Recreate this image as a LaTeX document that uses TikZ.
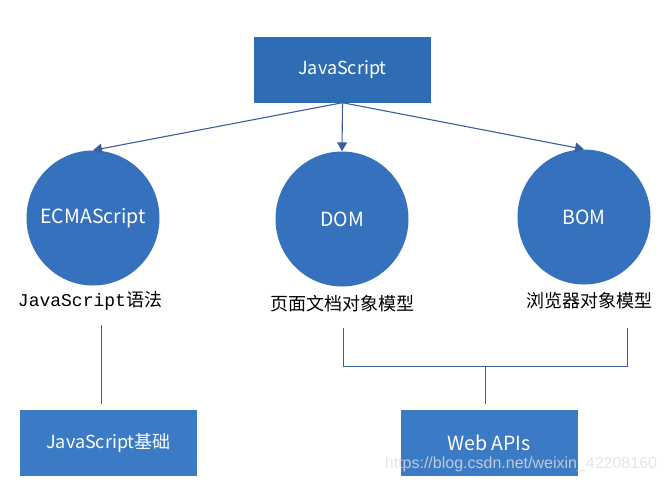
\documentclass[tikz,border=0pt]{standalone}
\usepackage{fontspec}
\usetikzlibrary{shapes.geometric, arrows.meta, positioning}
\newfontfamily\cjk{Noto Sans CJK SC}
\newfontfamily\codefont{Liberation Mono}
\newfontfamily\markfont{Liberation Sans}
\definecolor{topblue}{HTML}{2E6DB4}
\definecolor{ballblue}{HTML}{3571BD}
\definecolor{baseblue}{HTML}{3B7AC4}
\definecolor{linkblue}{HTML}{3A5E9E}

\begin{document}
\begin{tikzpicture}[x=1pt, y=-1pt,
  box/.style={rectangle, minimum width=177pt, minimum height=66pt, inner sep=0pt, text=white, font=\cjk\fontsize{18}{20}\selectfont},
  ball/.style={ellipse, minimum width=133pt, minimum height=135pt, inner sep=-12pt, fill=ballblue, text=white, font=\cjk\fontsize{19.5}{22}\selectfont},
  caption/.style={inner sep=1pt, font=\cjk\fontsize{18}{20}\selectfont},
  branch/.style={draw=linkblue, line width=1.1pt, -{Triangle[length=9pt,width=10pt]}},
  link/.style={draw=linkblue, line width=1pt}]
\useasboundingbox (0,0) rectangle (668,483);

% Top box
\node[box, fill=topblue] (js) at (342.5,69.5) {JavaScript};

% The three parts
\node[ball] (ecma) at (93,218) {ECMAScript};
\node[ball] (dom) at (342,219) {DOM};
\node[ball] (bom) at (584,217) {BOM};

% Captions
\node[caption] (ecmalbl) at (90,301) {{\codefont JavaScript}语法};
\node[caption] (domlbl) at (342,304) {页面文档对象模型};
\node[caption] (bomlbl) at (589,301) {浏览器对象模型};

% Bottom boxes
\node[box, fill=baseblue] (jsbase) at (108.5,443) {JavaScript基础};
\node[box, fill=baseblue, font=\cjk\fontsize{19.5}{22}\selectfont] (webapi) at (489,443) {Web APIs};

% Arrows
\draw[branch] (js.south) -- (ecma.north);
\draw[branch] (js.south) -- (dom.north);
\draw[branch] (js.south) -- (bom.north);

% Links to the bottom boxes
\coordinate (ecmaend) at (101,325);
\coordinate (domend) at (343,328);
\coordinate (bomend) at (627,328);
\coordinate (apijoin) at (485,366);
\draw[link, shorten >=6pt] (ecmaend) -- (ecmaend |- jsbase.north);
\draw[link] (domend) -- ++(0,38) -| (bomend);
\draw[link, shorten >=6pt] (apijoin) -- (apijoin |- webapi.north);

% Watermark
\node[text=gray!25, opacity=0.8, font=\markfont\fontsize{16}{18}\selectfont] (mark) at (521,464) {https://blog.csdn.net/weixin\_42208160};
\end{tikzpicture}
\end{document}
